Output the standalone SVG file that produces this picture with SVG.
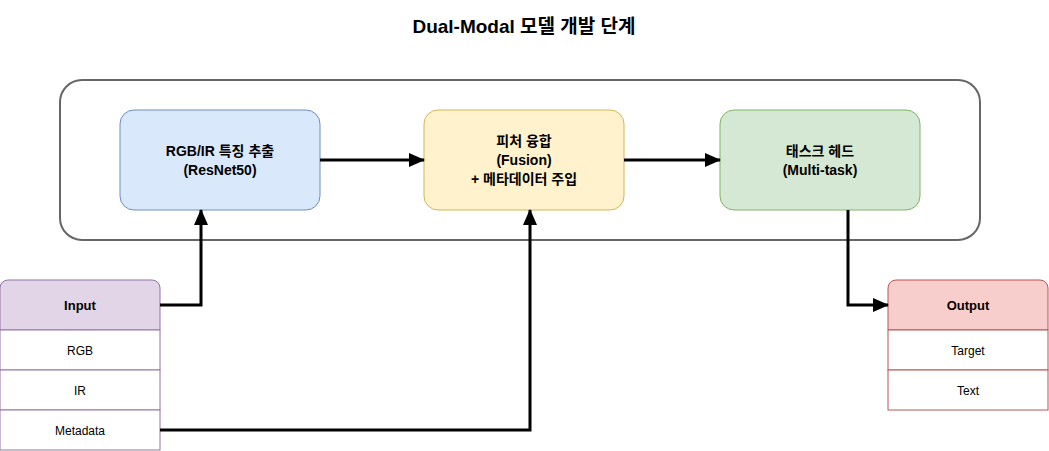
<svg xmlns="http://www.w3.org/2000/svg" width="1049" height="451" viewBox="0 0 1049 451">
<style>
text{font-family:"Liberation Sans","Noto Sans CJK KR",sans-serif;text-anchor:middle;fill:#000}
.b{font-weight:bold;font-size:14px}
.s{font-size:12px}
.c{fill:none;stroke:#000;stroke-width:3}
</style>
<defs><marker id="a" markerWidth="8" markerHeight="8" refX="6" refY="4" orient="auto" markerUnits="userSpaceOnUse" viewBox="0 0 8 8"><path d="M0,0L8,4L0,8z" fill="#000"/></marker>
<marker id="ar" markerWidth="16" markerHeight="14" refX="15" refY="7" orient="auto" markerUnits="userSpaceOnUse"><path d="M0,0L16,7L0,14z" fill="#000"/></marker></defs>
<rect fill="#fff" width="1049" height="451"/>
<text x="524" y="33" style="font-weight:bold;font-size:19px">Dual-Modal 모델 개발 단계</text>
<rect x="60" y="80" width="920" height="160" rx="22" fill="#fff" stroke="#666" stroke-width="2"/>
<g id="n1"><rect x="120" y="110" width="200" height="100" rx="14" fill="#dae8fc" stroke="#6c8ebf"/><text class="b" x="220" y="156">RGB/IR 특징 추출</text><text class="b" x="220" y="175">(ResNet50)</text></g>
<g id="n2"><rect x="424" y="110" width="200" height="100" rx="14" fill="#fff2cc" stroke="#d6b656"/><text class="b" x="524" y="146">피처 융합</text><text class="b" x="524" y="165">(Fusion)</text><text class="b" x="524" y="184">+ 메타데이터 주입</text></g>
<g id="n3"><rect x="720" y="110" width="200" height="100" rx="14" fill="#d5e8d4" stroke="#82b366"/><text class="b" x="820" y="156">태스크 헤드</text><text class="b" x="820" y="175">(Multi-task)</text></g>
<g id="input"><path d="M0,330V288a8,8 0 0 1 8,-8H152a8,8 0 0 1 8,8V330z" fill="#e1d5e7" stroke="#9673a6"/><text class="b" x="80" y="310" style="font-size:13px">Input</text>
<rect x="0" y="330" width="160" height="40" fill="#fff" stroke="#9673a6"/><text class="s" x="80" y="355">RGB</text>
<rect x="0" y="370" width="160" height="40" fill="#fff" stroke="#9673a6"/><text class="s" x="80" y="395">IR</text>
<rect x="0" y="410" width="160" height="40" fill="#fff" stroke="#9673a6"/><text class="s" x="80" y="435">Metadata</text></g>
<g id="output"><path d="M888,330V288a8,8 0 0 1 8,-8H1040a8,8 0 0 1 8,8V330z" fill="#f8cecc" stroke="#b85450"/><text class="b" x="968" y="310" style="font-size:13px">Output</text>
<rect x="888" y="330" width="160" height="40" fill="#fff" stroke="#b85450"/><text class="s" x="968" y="355">Target</text>
<rect x="888" y="370" width="160" height="40" fill="#fff" stroke="#b85450"/><text class="s" x="968" y="395">Text</text></g>
<g id="connectors">
<path class="c" d="M320,160H424" marker-end="url(#ar)"/>
<path class="c" d="M624,160H720" marker-end="url(#ar)"/>
<path class="c" d="M160,305H201V210" marker-end="url(#ar)"/>
<path class="c" d="M160,430H530V210" marker-end="url(#ar)"/>
<path class="c" d="M848,210V305H888" marker-end="url(#ar)"/>
</g>
</svg>
